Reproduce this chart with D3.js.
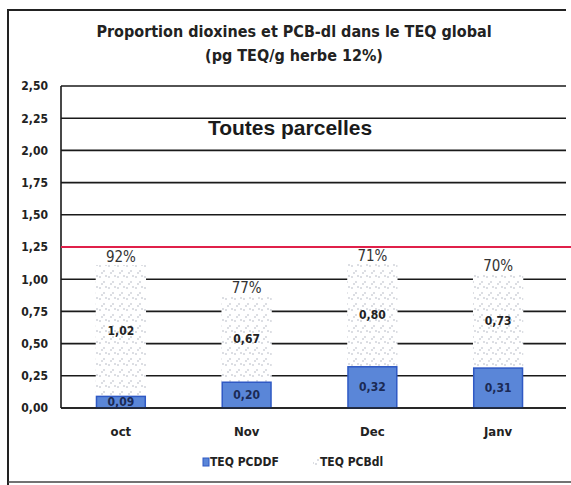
<!DOCTYPE html>
<html>
<head>
<meta charset="utf-8">
<script src="https://cdn.jsdelivr.net/npm/d3@7"></script>
<style>
  body { margin: 0; background: #fff; }
  text { font-family: "Liberation Sans Narrow", "DejaVu Sans Condensed", "Open Sans", sans-serif; }
</style>
</head>
<body>
<script>
var svg_width = 571;
var svg_height = 485;

// data
var months = ["oct", "Nov", "Dec", "Janv"];
var pcddf = [0.09, 0.20, 0.32, 0.31];
var pcbdl = [1.02, 0.67, 0.80, 0.73];
var shares = ["92%", "77%", "71%", "70%"];
var yTicks = [0, 0.25, 0.5, 0.75, 1, 1.25, 1.5, 1.75, 2, 2.25, 2.5];
var limit = 1.25;
var legendNames = ["TEQ PCDDF", "TEQ PCBdl"];

var fr = d3.formatLocale({decimal: ",", thousands: " ", grouping: [3], currency: ["", "€"]});
var f2 = fr.format(".2f");

var svg = d3.select("body").append("svg")
  .attr("width", svg_width)
  .attr("height", svg_height);

// speckled fill for the PCB-dl part
var defs = svg.append("defs");
var pat = defs.append("pattern")
  .attr("id", "speckle")
  .attr("width", 9).attr("height", 11)
  .attr("patternUnits", "userSpaceOnUse");
pat.append("rect").attr("width", 9).attr("height", 11).attr("fill", "#fff");
[[1, 2], [5, 7], [7, 1], [3, 9]].forEach(function(p) {
  pat.append("circle").attr("cx", p[0]).attr("cy", p[1]).attr("r", 0.75).attr("fill", "#a9aebb");
});

// frame
svg.append("path")
  .attr("d", "M8,485 L8,10 L566,10")
  .attr("fill", "none").attr("stroke", "#222").attr("stroke-width", 2);
svg.append("line")
  .attr("x1", 8).attr("x2", 571).attr("y1", 482).attr("y2", 482)
  .attr("stroke", "#444").attr("stroke-width", 1.5);

// title
svg.append("text").attr("x", 294).attr("y", 37)
  .attr("text-anchor", "middle").attr("font-size", 16).attr("font-weight", "bold")
  .attr("fill", "#222")
  .text("Proportion dioxines et PCB-dl dans le TEQ global");
svg.append("text").attr("x", 294).attr("y", 61)
  .attr("text-anchor", "middle").attr("font-size", 16).attr("font-weight", "bold")
  .attr("fill", "#222")
  .text("(pg TEQ/g herbe 12%)");

var plotLeft = 61, plotRight = 566;

var x = d3.scaleBand()
  .domain(months)
  .range([58, 561])
  .paddingInner(0.6)
  .paddingOuter(0.3);

var y = d3.scaleLinear()
  .domain([0, 2.5])
  .range([408, 86]);

// gridlines
svg.append("g").selectAll("line")
  .data(yTicks)
  .enter().append("line")
  .attr("x1", plotLeft).attr("x2", plotRight)
  .attr("y1", d => y(d)).attr("y2", d => y(d))
  .attr("stroke", "#1a1a1a").attr("stroke-width", 1.6);

// y axis labels
var yAxis = d3.axisLeft(y).tickValues(yTicks).tickFormat(f2).tickSize(0).tickPadding(0);
var gy = svg.append("g").attr("transform", "translate(48,0)").call(yAxis);
gy.select(".domain").remove();
gy.selectAll("text").attr("font-size", 12).attr("font-weight", "bold").attr("fill", "#222");

svg.append("line")
  .attr("x1", plotLeft).attr("x2", plotLeft)
  .attr("y1", y(2.5)).attr("y2", y(0))
  .attr("stroke", "#1a1a1a").attr("stroke-width", 1.6);

// red limit line
svg.append("line")
  .attr("x1", plotLeft).attr("x2", 571)
  .attr("y1", y(limit)).attr("y2", y(limit))
  .attr("stroke", "#e0204a").attr("stroke-width", 2);

var rows = months.map(function(m, i) {
  return {month: m, a: pcddf[i], b: pcbdl[i], share: shares[i]};
});

// PCB-dl segment (white speckled)
svg.append("g").selectAll("rect")
  .data(rows)
  .enter().append("rect")
  .attr("x", d => x(d.month))
  .attr("width", x.bandwidth())
  .attr("y", d => y(d.a + d.b))
  .attr("height", d => y(d.a) - y(d.a + d.b))
  .attr("fill", "url(#speckle)");

// PCDD/F segment (blue)
svg.append("g").selectAll("rect")
  .data(rows)
  .enter().append("rect")
  .attr("x", d => x(d.month) + 0.75)
  .attr("width", x.bandwidth() - 1.5)
  .attr("y", d => y(d.a))
  .attr("height", d => y(0) - y(d.a))
  .attr("fill", "#5a86d8")
  .attr("stroke", "#2f59c4").attr("stroke-width", 1.5);

// redraw baseline over bars
svg.append("line")
  .attr("x1", plotLeft).attr("x2", plotRight)
  .attr("y1", y(0)).attr("y2", y(0))
  .attr("stroke", "#1a1a1a").attr("stroke-width", 1.6);

// value labels
var labels = svg.append("g").attr("font-weight", "bold").attr("font-size", 12).attr("fill", "#222");
labels.selectAll(".va")
  .data(rows)
  .enter().append("text")
  .attr("x", d => x(d.month) + x.bandwidth() / 2)
  .attr("y", d => y(d.a / 2) + 4)
  .attr("text-anchor", "middle")
  .attr("fill", "#1b2a55")
  .text(d => f2(d.a));
labels.selectAll(".vb")
  .data(rows)
  .enter().append("text")
  .attr("x", d => x(d.month) + x.bandwidth() / 2)
  .attr("y", d => y(d.a + d.b / 2) + 4)
  .attr("text-anchor", "middle")
  .text(d => f2(d.b));

// share labels
svg.append("g").selectAll("text")
  .data(rows)
  .enter().append("text")
  .attr("x", d => x(d.month) + x.bandwidth() / 2)
  .attr("y", d => y(d.a + d.b) - 3)
  .attr("text-anchor", "middle")
  .attr("font-size", 15)
  .attr("fill", "#333")
  .text(d => d.share);

// category labels
svg.append("g").selectAll("text")
  .data(rows)
  .enter().append("text")
  .attr("x", d => x(d.month) + x.bandwidth() / 2)
  .attr("y", 436)
  .attr("text-anchor", "middle")
  .attr("font-size", 13).attr("font-weight", "bold")
  .attr("fill", "#222")
  .text(d => d.month);

// subtitle inside plot
svg.append("text")
  .attr("x", 290).attr("y", 135)
  .attr("text-anchor", "middle")
  .attr("style", "font-family: 'Liberation Sans', Arial, sans-serif")
  .attr("font-size", 21).attr("font-weight", "bold")
  .attr("fill", "#1a1a1a")
  .text("Toutes parcelles");

// legend
var lg = svg.append("g").attr("font-size", 12).attr("font-weight", "bold").attr("fill", "#222");
lg.append("rect").attr("x", 203).attr("y", 458).attr("width", 6).attr("height", 8)
  .attr("fill", "#5a86d8").attr("stroke", "#2f59c4").attr("stroke-width", 1);
lg.append("text").attr("x", 210).attr("y", 466).text(legendNames[0]);
lg.append("rect").attr("x", 313).attr("y", 458).attr("width", 6).attr("height", 8)
  .attr("fill", "url(#speckle)");
lg.append("text").attr("x", 320).attr("y", 466).text(legendNames[1]);
</script>
</body>
</html>
